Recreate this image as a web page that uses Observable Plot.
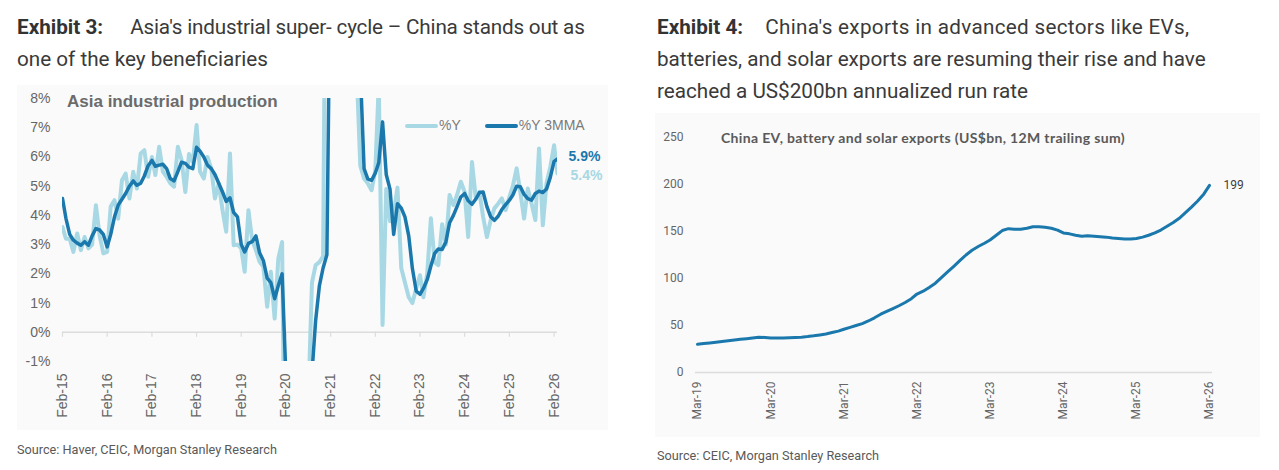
<!DOCTYPE html>
<html>
<head>
<meta charset="utf-8">
<script src="https://cdn.jsdelivr.net/npm/d3@7"></script>
<script src="https://cdn.jsdelivr.net/npm/@observablehq/plot@0.6"></script>
<style>
  html, body { margin: 0; padding: 0; background: #ffffff; }
  body { width: 1279px; height: 470px; position: relative; overflow: hidden; font-family: Roboto, "Liberation Sans", Arial, sans-serif; }
  .title { position: absolute; font-size: 20.7px; line-height: 32px; color: #3a3a3a; white-space: nowrap; }
  .title b { font-weight: 700; color: #333333; }
  .box { position: absolute; background: #fafafa; }
  .source { position: absolute; font-size: 12.7px; color: #595959; white-space: nowrap; }
  .inner { position: absolute; white-space: nowrap; }
  .sw { display: inline-block; width: 33px; height: 4px; vertical-align: middle; margin-right: 1px; border-radius: 2px; }
</style>
</head>
<body>
<div class="title" style="left:17px; top:11px;"><b style="margin-right:27px">Exhibit 3:</b><span style="letter-spacing:-0.2px">Asia's industrial super- cycle – China stands out as</span><br>one of the key beneficiaries</div>
<div class="title" style="left:657px; top:11px;"><b style="margin-right:22px">Exhibit 4:</b><span style="letter-spacing:0.3px">China's exports in advanced sectors like EVs,</span><br>batteries, and solar exports are resuming their rise and have<br>reached a US$200bn annualized run rate</div>

<div class="box" id="leftBox" style="left:17px; top:85px; width:591px; height:345px;"></div>
<div class="box" id="rightBox" style="left:655px; top:113px; width:605px; height:324px;"></div>

<div class="inner" style="left:67px; top:92px; font-family:'Liberation Sans', Arial, sans-serif; font-weight:700; font-size:17px; color:#6b6b6b;">Asia industrial production</div>
<div class="inner" id="legend" style="left:405px; top:117px; font-family:'Liberation Sans', Arial, sans-serif; font-size:14px; color:#7a7a7a;"></div>
<div class="inner" style="left:721px; top:129px; font-family:Lato, 'Open Sans', sans-serif; font-weight:700; font-size:14px; letter-spacing:0.35px; color:#595959;">China EV, battery and solar exports (US$bn, 12M trailing sum)</div>

<div class="source" style="left:17px; top:442px;">Source: Haver, CEIC, Morgan Stanley Research</div>
<div class="source" style="left:657px; top:448px;">Source: CEIC, Morgan Stanley Research</div>

<script>
// ---------- Exhibit 3 data: Asia industrial production, monthly from Feb-2015 ----------
const asiaStart = "2015-02-01";
const asiaEndDomain = "2026-03-01";
// %Y (monthly, year-over-year)
const asiaYoY = [
  3.6, 3.2, 3.2, 2.75, 3.38, 2.81, 3.26, 2.87, 3.0, 4.35,
  3.32, 2.7, 2.75, 4.3, 4.52, 3.89, 5.2, 5.43, 4.58, 5.49,
  4.92, 6.12, 6.23, 5.32, 6.0, 5.38, 6.35, 5.5, 5.32, 5.1,
  4.98, 6.35, 5.9, 4.8, 6.1, 5.83, 7.09, 5.5, 5.26, 6.0,
  5.6, 4.58, 5.09, 4.18, 3.44, 6.12, 2.98, 3.0, 2.87, 2.07,
  4.18, 3.15, 2.81, 2.41, 2.24, 0.87, 2.07, 0.47, 2.52, 3.09,
  -9, -14, -8, -6, -4, -3, -2.5, 1.7, 2.3, 2.4,
  2.6, 20, 30, 20, 18, 15, 12, 11, 10, 9,
  5.7, 5.26, 5.1, 4.86, 5.55, 8.5, 0.25, 4.9, 3.8, 4.05,
  4.95, 2.2, 1.7, 1.2, 1.0, 1.5, 1.95, 1.2, 2.0, 3.9,
  2.4, 2.3, 3.7, 3.0, 4.7, 4.35, 4.7, 5.15, 4.8, 3.26,
  5.83, 4.63, 4.8, 3.95, 3.26, 3.84, 4.24, 4.4, 4.58, 4.18,
  4.63, 5.0, 5.61, 4.8, 3.89, 4.92, 4.4, 3.84, 6.29, 3.66,
  5.09, 5.66, 6.4, 5.43
];
// %Y 3MMA
const asiaYoY3mma = [
  4.58, 3.9, 3.35, 3.15, 3.05, 2.98, 3.1, 2.98, 3.3, 3.55,
  3.5, 3.35, 2.92, 3.35, 3.95, 4.35, 4.55, 4.75, 5.0, 5.18,
  5.03, 5.1, 5.35, 5.7, 5.88, 5.68, 5.72, 5.75, 5.6, 5.26,
  5.18, 5.5, 5.82, 5.78, 5.65, 5.6, 6.33, 6.2, 6.0, 5.72,
  5.6, 5.4, 5.1, 4.8, 4.48, 4.6, 4.1, 3.95, 3.0, 2.75,
  3.04, 3.1, 3.3, 2.72, 2.45, 1.85, 1.7, 1.15, 1.6, 2.0,
  -1.5, -9, -11, -9, -6, -4, -2.5, -1.4, 0.4, 1.6,
  2.2, 2.65, 14, 22, 24, 20, 16, 13, 11, 10,
  9, 5.6, 5.25, 5.2, 5.45, 5.8, 7.2, 5.4, 4.9, 3.35,
  4.4, 4.25, 3.95, 3.3, 2.18, 1.41, 1.3, 1.5, 1.8, 2.27,
  2.7, 2.85, 2.83, 3.1, 3.75, 4.0, 4.3, 4.63, 4.75, 4.5,
  4.38, 4.55, 4.78, 4.8, 4.3, 3.95, 3.83, 3.97, 4.2, 4.37,
  4.52, 4.7, 5.0, 4.98, 4.72, 4.57, 4.52, 4.75, 4.83, 4.78,
  4.9, 5.3, 5.85, 5.93
];
const asiaYTicks = [-1, 0, 1, 2, 3, 4, 5, 6, 7, 8];
const asiaXTicks = ["2015-02-01","2016-02-01","2017-02-01","2018-02-01","2019-02-01","2020-02-01",
                    "2021-02-01","2022-02-01","2023-02-01","2024-02-01","2025-02-01","2026-02-01"];
const asiaSeriesNames = ["%Y", "%Y 3MMA"];

// ---------- Exhibit 4 data: China EV, battery & solar exports, monthly from Mar-2019 ----------
const exportsStart = "2019-03-01";
const exportsEndDomain = "2026-03-01";
const exportsUSDbn = [
  30, 30.8, 31.5, 32.2, 33, 33.7, 34.5, 35.3, 36, 36.7,
  37.5, 37.3, 36.7, 36.6, 36.7, 36.9, 37.2, 37.6, 38.2, 39,
  40, 41, 42.5, 44, 46, 48, 50, 52, 54.8, 58.2,
  62, 65, 68, 71, 74.5, 78.5, 83.5, 86.5, 90.5, 95,
  101, 107, 113, 119, 125, 130, 134, 137.5, 141, 146,
  151, 153, 152.5, 152.5, 153.5, 155, 155, 154.5, 153.5, 151.5,
  148.5, 147.5, 146, 145, 145.5, 145, 144.5, 144, 143, 142.5,
  142, 142, 142.5, 144, 146, 148.5, 151.5, 155.5, 159.5, 164,
  170, 176, 182.5, 190, 199
];
const exportsYTicks = [0, 50, 100, 150, 200, 250];
const exportsXTicks = ["2019-03-01","2020-03-01","2021-03-01","2022-03-01","2023-03-01","2024-03-01","2025-03-01","2026-03-01"];

// ---------- build ----------
const LIGHT = "#a7d8e4";
const DARK = "#1a78ad";
const fmt = d3.utcFormat("%b-%y");
const parse = s => new Date(s + "T00:00:00Z");

const asiaData = asiaYoY.map((v, i) => ({
  date: d3.utcMonth.offset(parse(asiaStart), i),
  yoy: v,
  mma: asiaYoY3mma[i]
}));
const asiaLast = asiaData[asiaData.length - 1];

const left = Plot.plot({
  width: 591, height: 345,
  marginTop: 13, marginBottom: 69, marginLeft: 45, marginRight: 51,
  style: {background: "transparent", fontFamily: "'Liberation Sans', Arial, sans-serif", color: "#666666", overflow: "visible"},
  x: {type: "utc", domain: [parse(asiaStart), parse(asiaEndDomain)]},
  y: {domain: [-1, 8]},
  marks: [
    Plot.ruleY([0], {stroke: "#dcdcdc", strokeWidth: 1.5}),
    Plot.ruleX(asiaXTicks.map(parse), {x: d => d, y1: 0, y2: 0, insetBottom: -5, stroke: "#dcdcdc", strokeWidth: 1.2}),
    Plot.axisY({ticks: asiaYTicks, tickSize: 0, tickPadding: 12, tickFormat: d => d + "%", fontSize: 14, label: null}),
    Plot.axisX({ticks: asiaXTicks.map(parse), tickSize: 0, tickPadding: 12, tickRotate: -90, tickFormat: fmt, fontSize: 14, label: null}),
    Plot.lineY(asiaData, {x: "date", y: "yoy", stroke: LIGHT, strokeWidth: 4, clip: true}),
    Plot.lineY(asiaData, {x: "date", y: "mma", stroke: DARK, strokeWidth: 3.5, clip: true}),
    Plot.text([asiaLast], {x: "date", y: "mma", text: d => d.mma.toFixed(1) + "%", dx: 11, dy: -2, textAnchor: "start", fill: DARK, fontWeight: "bold", fontSize: 14}),
    Plot.text([asiaLast], {x: "date", y: "yoy", text: d => d.yoy.toFixed(1) + "%", dx: 13, dy: 2, textAnchor: "start", fill: LIGHT, fontWeight: "bold", fontSize: 14})
  ]
});
document.getElementById("leftBox").appendChild(left);

const legend = document.getElementById("legend");
legend.innerHTML =
  `<span class="sw" style="background:${LIGHT}"></span>${asiaSeriesNames[0]}` +
  `<span style="display:inline-block;width:24px"></span>` +
  `<span class="sw" style="background:${DARK}"></span>${asiaSeriesNames[1]}`;

const expData = exportsUSDbn.map((v, i) => ({date: d3.utcMonth.offset(parse(exportsStart), i), value: v}));
const expLast = expData[expData.length - 1];

const right = Plot.plot({
  width: 605, height: 324,
  marginTop: 24, marginBottom: 65, marginLeft: 42, marginRight: 51,
  style: {background: "transparent", fontFamily: "Roboto, 'Liberation Sans', sans-serif", color: "#666666", overflow: "visible"},
  x: {type: "utc", domain: [parse(exportsStart), parse(exportsEndDomain)]},
  y: {domain: [0, 250]},
  marks: [
    Plot.ruleY([0], {stroke: "#dcdcdc", strokeWidth: 1.5, insetLeft: -2, insetRight: -3}),
    Plot.axisY({ticks: exportsYTicks, tickSize: 0, tickPadding: 14, fontSize: 12, label: null}),
    Plot.axisX({ticks: exportsXTicks.map(parse), tickSize: 0, tickPadding: 9, tickRotate: -90, tickFormat: fmt, fontSize: 12, label: null}),
    Plot.lineY(expData, {x: "date", y: "value", stroke: DARK, strokeWidth: 3}),
    Plot.text([expLast], {x: "date", y: "value", text: d => String(Math.round(d.value)), dx: 14, textAnchor: "start", fill: "#404040", fontSize: 12})
  ]
});
document.getElementById("rightBox").appendChild(right);
</script>
</body>
</html>
